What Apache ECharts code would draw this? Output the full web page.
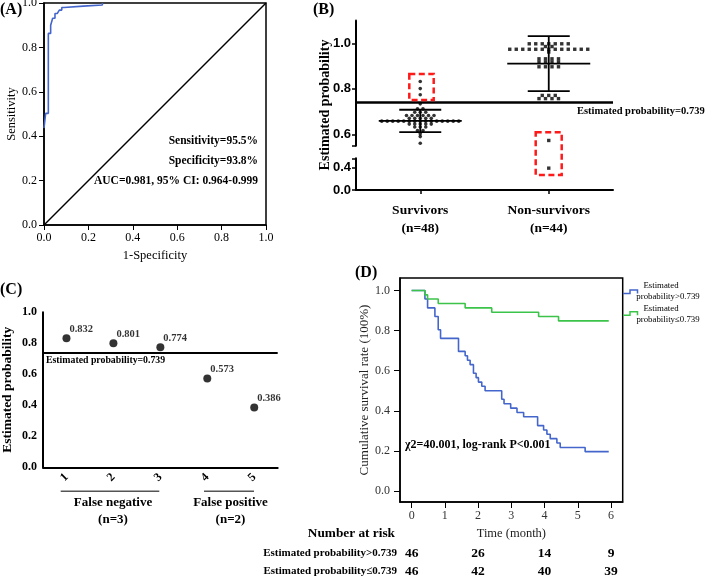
<!DOCTYPE html>
<html><head><meta charset="utf-8">
<script src="https://cdn.jsdelivr.net/npm/echarts@6/dist/echarts.min.js"></script>
<style>html,body{margin:0;padding:0;background:#fff}#c{width:709px;height:578px}</style>
</head><body><div id="c"></div>
<script>
// ---------- Panel A: ROC ----------
const rocFpr = [0, 0.0075, 0.0195, 0.030, 0.039, 0.0495, 0.060, 0.069, 0.080, 0.090, 0.177, 0.263];
const rocTpr = [0.436, 0.503, 0.863, 0.900, 0.931, 0.953, 0.961, 0.968, 0.980, 0.986, 0.991, 1.000];
const rocStats = ['Sensitivity=95.5%', 'Specificity=93.8%', 'AUC=0.981, 95% CI: 0.964-0.999'];
const axisTicks01 = [0, 0.2, 0.4, 0.6, 0.8, 1.0];

// ---------- Panel B: dot plot ----------
const groupLabels = ['Survivors\n(n=48)', 'Non-survivors\n(n=44)'];
const survivors = [0.832, 0.801, 0.774, 0.734, 0.712, 0.712, 0.697, 0.697, 0.697,
  0.683, 0.683, 0.683, 0.683, 0.683, 0.683, 0.671, 0.671, 0.671, 0.671, 0.671,
  0.658, 0.658, 0.658, 0.658, 0.658, 0.658, 0.658, 0.658, 0.658, 0.658, 0.658, 0.658, 0.658, 0.658, 0.658,
  0.645, 0.645, 0.645, 0.645, 0.645, 0.632, 0.632, 0.632, 0.617, 0.617, 0.602, 0.590, 0.561];
const nonSurvivors = [0.998, 0.998, 0.998, 0.998, 0.998, 0.998, 0.998, 0.986, 0.986,
  0.974, 0.974, 0.974, 0.974, 0.974, 0.974, 0.974, 0.974, 0.974, 0.974, 0.974, 0.974, 0.974,
  0.962, 0.932, 0.932, 0.932, 0.932, 0.918, 0.918, 0.918, 0.918, 0.897, 0.897, 0.897, 0.897,
  0.771, 0.771, 0.771, 0.757, 0.757, 0.757, 0.757, 0.573, 0.386];
const groupMean = [0.659, 0.911];
const groupSD = [0.049, 0.121];
const threshold = 0.739;
const upperTicks = [0.6, 0.8, 1.0];
const lowerTicks = [0, 0.4];

// ---------- Panel C ----------
const caseIds = ['1', '2', '3', '4', '5'];
const caseProb = [0.832, 0.801, 0.774, 0.573, 0.386];

// ---------- Panel D: Kaplan-Meier ----------
const kmHighTime = [0, 0.40, 0.48, 0.70, 0.80, 0.87, 1.41, 1.61, 1.68, 1.76, 1.86, 1.94, 2.01, 2.11, 2.21, 2.71, 2.78, 2.98, 3.17, 3.37, 3.79, 3.97, 4.07, 4.17, 4.37, 4.47, 5.22, 5.93];
const kmHighSurv = [1.000, 0.957, 0.913, 0.870, 0.804, 0.761, 0.696, 0.674, 0.652, 0.630, 0.587, 0.565, 0.543, 0.522, 0.500, 0.457, 0.435, 0.413, 0.391, 0.370, 0.326, 0.304, 0.283, 0.261, 0.239, 0.217, 0.196, 0.196];
const kmLowTime = [0, 0.40, 0.48, 0.80, 1.61, 2.41, 3.82, 4.42, 5.93];
const kmLowSurv = [1.000, 0.978, 0.957, 0.935, 0.913, 0.891, 0.870, 0.848, 0.848];
const kmTicksX = [0, 1, 2, 3, 4, 5, 6];
const kmTicksY = [0, 0.2, 0.4, 0.6, 0.8, 1.0];
const riskTimes = [0, 2, 4, 6];
const riskHigh = [46, 26, 14, 9];
const riskLow = [46, 42, 40, 39];
const seriesNames = ['Estimated probability>0.739', 'Estimated probability\u22640.739'];

// ---------- drawing ----------
const SERIF = '"Liberation Serif", "Times New Roman", serif';
const SANS = '"Liberation Sans", Arial, sans-serif';
const BLUE = '#4466cc', GREEN = '#3cc34a';

const gB = {left: 356, width: 257, xmin: 0.5, xmax: 2.5};
const pxPerUnitB = gB.width / (gB.xmax - gB.xmin);

function swarm(vals, center, spacingPx) {
  const counts = {}, seen = {};
  vals.forEach(v => counts[v] = (counts[v] || 0) + 1);
  return vals.map(v => {
    const n = counts[v]; const i = seen[v] || 0; seen[v] = i + 1;
    return [center + (i - (n - 1) / 2) * spacingPx / pxPerUnitB, v];
  });
}
const survPts = swarm(survivors, 1, 5.5);
const nonPts = swarm(nonSurvivors, 2, 6.5);
const splitAt = 0.55;

const fmt1 = v => (+v).toFixed(1);
const chart = echarts.init(document.getElementById('c'), null, {renderer: 'canvas'});

const blackLine = w => ({show: true, onZero: false, lineStyle: {color: '#000', width: w}});

const option = {
  animation: false,
  backgroundColor: '#fff',
  grid: [
    {left: 44, top: 3, width: 222, height: 222, show: true, borderColor: '#000', borderWidth: 1.5, outerBoundsMode: 'none'},
    {left: gB.left, top: 20.6, width: gB.width, height: 125.1, outerBoundsMode: 'none'},
    {left: gB.left, top: 158.3, width: gB.width, height: 31.7, outerBoundsMode: 'none'},
    {left: 43, top: 312.3, width: 234.7, height: 155, outerBoundsMode: 'none'},
    {left: 400, top: 278, width: 222.7, height: 224, show: true, borderColor: '#000', borderWidth: 1.5, outerBoundsMode: 'none'}
  ],
  xAxis: [
    {gridIndex: 0, type: 'value', min: 0, max: 1, interval: 0.2, axisLine: blackLine(1.5),
      axisTick: {length: 5, lineStyle: {color: '#000'}}, splitLine: {show: false},
      axisLabel: {formatter: fmt1, color: '#000', fontFamily: SERIF, fontSize: 12, margin: 7},
      name: '1-Specificity', nameLocation: 'middle', nameGap: 24,
      nameTextStyle: {color: '#000', fontFamily: SERIF, fontSize: 12.5}},
    {gridIndex: 1, type: 'value', min: gB.xmin, max: gB.xmax, show: false},
    {gridIndex: 2, type: 'value', min: gB.xmin, max: gB.xmax, axisLine: blackLine(2),
      axisTick: {customValues: [1, 2], length: 4, lineStyle: {color: '#000', width: 1.5}},
      splitLine: {show: false},
      axisLabel: {customValues: [1, 2], formatter: v => groupLabels[Math.round(v) - 1] || '', color: '#000',
        fontFamily: SERIF, fontWeight: 'bold', fontSize: 13.5, lineHeight: 18, margin: 12}},
    {gridIndex: 3, type: 'category', data: caseIds, boundaryGap: true, axisLine: blackLine(2),
      axisTick: {alignWithLabel: true, length: 5, lineStyle: {color: '#000', width: 1.5}},
      axisLabel: {rotate: 45, color: '#000', fontFamily: SERIF, fontWeight: 'bold', fontSize: 12, margin: 8}},
    {gridIndex: 4, type: 'value', min: -0.35, max: 6.35, axisLine: blackLine(1.5),
      axisTick: {customValues: kmTicksX, length: 6, lineStyle: {color: '#000'}}, splitLine: {show: false},
      axisLabel: {customValues: kmTicksX, color: '#333', fontFamily: SERIF, fontSize: 12, margin: 8},
      name: 'Time (month)', nameLocation: 'middle', nameGap: 25,
      nameTextStyle: {color: '#222', fontFamily: SERIF, fontSize: 12.5}}
  ],
  yAxis: [
    {gridIndex: 0, type: 'value', min: 0, max: 1, interval: 0.2, axisLine: blackLine(1.5),
      axisTick: {length: 5, lineStyle: {color: '#000'}}, splitLine: {show: false},
      axisLabel: {formatter: fmt1, color: '#000', fontFamily: SERIF, fontSize: 12, margin: 7},
      name: 'Sensitivity', nameLocation: 'middle', nameGap: 26,
      nameTextStyle: {color: '#000', fontFamily: SERIF, fontSize: 12.5}},
    {gridIndex: 1, type: 'value', min: 0.55, max: 1.1, axisLine: blackLine(2),
      axisTick: {customValues: [0.55].concat(upperTicks), length: 4, lineStyle: {color: '#000', width: 1.5}},
      splitLine: {show: false},
      axisLabel: {customValues: upperTicks, formatter: fmt1, color: '#000', fontFamily: SANS, fontWeight: 'bold', fontSize: 13, margin: 5}},
    {gridIndex: 2, type: 'value', min: 0, max: 0.56, axisLine: blackLine(2),
      axisTick: {customValues: lowerTicks.concat([0.56]), length: 4, lineStyle: {color: '#000', width: 1.5}},
      splitLine: {show: false},
      axisLabel: {customValues: lowerTicks, formatter: fmt1, color: '#000', fontFamily: SANS, fontWeight: 'bold', fontSize: 13, margin: 5}},
    {gridIndex: 3, type: 'value', min: 0, max: 1, interval: 0.2, axisLine: blackLine(2),
      axisTick: {length: 5, lineStyle: {color: '#000', width: 1.5}}, splitLine: {show: false},
      axisLabel: {formatter: fmt1, color: '#000', fontFamily: SERIF, fontWeight: 'bold', fontSize: 12, margin: 6},
      name: 'Estimated probability', nameLocation: 'middle', nameGap: 28,
      nameTextStyle: {color: '#000', fontFamily: SERIF, fontWeight: 'bold', fontSize: 13.5}},
    {gridIndex: 4, type: 'value', min: -0.055, max: 1.062, axisLine: blackLine(1.5),
      axisTick: {customValues: kmTicksY, length: 6, lineStyle: {color: '#000'}}, splitLine: {show: false},
      axisLabel: {customValues: kmTicksY, formatter: fmt1, color: '#333', fontFamily: SERIF, fontSize: 12, margin: 10},
      name: 'Cumulative survival rate (100%)', nameLocation: 'middle', nameGap: 26,
      nameTextStyle: {color: '#222', fontFamily: SERIF, fontSize: 13}}
  ],
  series: [
    // A
    {type: 'line', xAxisIndex: 0, yAxisIndex: 0, data: [[0, 0], [1, 1]], showSymbol: false,
      lineStyle: {color: '#000', width: 1.5}, z: 2},
    {type: 'line', xAxisIndex: 0, yAxisIndex: 0, step: 'end', data: rocFpr.map((x, i) => [x, rocTpr[i]]),
      showSymbol: false, lineStyle: {color: BLUE, width: 1.6}, z: 3},
    // B upper
    {type: 'scatter', xAxisIndex: 1, yAxisIndex: 1, data: survPts.filter(p => p[1] >= splitAt),
      symbol: 'circle', symbolSize: 3.6, itemStyle: {color: '#000'},
      markLine: {silent: true, symbol: 'none', label: {show: false},
        lineStyle: {color: '#000', width: 2.5, type: 'solid'}, data: [{yAxis: threshold}]}},
    {type: 'scatter', xAxisIndex: 1, yAxisIndex: 1, data: nonPts.filter(p => p[1] >= splitAt),
      symbol: 'rect', symbolSize: 3.4, itemStyle: {color: '#000'}},
    {type: 'scatter', xAxisIndex: 2, yAxisIndex: 2, data: nonPts.filter(p => p[1] < splitAt),
      symbol: 'rect', symbolSize: 3.4, itemStyle: {color: '#000'}},
    {type: 'scatter', xAxisIndex: 2, yAxisIndex: 2, data: survPts.filter(p => p[1] < splitAt),
      symbol: 'circle', symbolSize: 3.6, itemStyle: {color: '#000'}},
    {type: 'custom', xAxisIndex: 1, yAxisIndex: 1, z: 4,
      data: groupMean.map((m, i) => [i + 1, m, groupSD[i]]),
      renderItem: function (params, api) {
        const x = api.value(0), m = api.value(1), s = api.value(2);
        const c = api.coord([x, m]), hi = api.coord([x, m + s]), lo = api.coord([x, m - s]);
        const capW = 21, meanW = 41.5;
        const st = {stroke: '#000', lineWidth: 1.8};
        return {type: 'group', children: [
          {type: 'line', shape: {x1: c[0], y1: hi[1], x2: c[0], y2: lo[1]}, style: st},
          {type: 'line', shape: {x1: c[0] - capW, y1: hi[1], x2: c[0] + capW, y2: hi[1]}, style: st},
          {type: 'line', shape: {x1: c[0] - capW, y1: lo[1], x2: c[0] + capW, y2: lo[1]}, style: st},
          {type: 'line', shape: {x1: c[0] - meanW, y1: c[1], x2: c[0] + meanW, y2: c[1]}, style: st}
        ]};
      }},
    // C
    {type: 'scatter', xAxisIndex: 3, yAxisIndex: 3, data: caseProb, symbol: 'circle', symbolSize: 8,
      itemStyle: {color: '#000'},
      label: {show: true, position: [7, -5], align: 'left', verticalAlign: 'middle',
        formatter: p => p.value.toFixed(3), color: '#000', fontFamily: SERIF, fontWeight: 'bold', fontSize: 10.5},
      markLine: {silent: true, symbol: 'none', label: {show: false},
        lineStyle: {color: '#000', width: 2, type: 'solid'}, data: [{yAxis: threshold}]}},
    // D
    {name: seriesNames[0], type: 'line', xAxisIndex: 4, yAxisIndex: 4, step: 'end',
      data: kmHighTime.map((t, i) => [t, kmHighSurv[i]]), showSymbol: false,
      lineStyle: {color: BLUE, width: 1.6}},
    {name: seriesNames[1], type: 'line', xAxisIndex: 4, yAxisIndex: 4, step: 'end',
      data: kmLowTime.map((t, i) => [t, kmLowSurv[i]]), showSymbol: false,
      lineStyle: {color: GREEN, width: 1.6}}
  ]
};
chart.setOption(option);

function txt(text, x, y, size, opts) {
  opts = opts || {};
  return {type: 'text', x: x, y: y, rotation: opts.rot || 0, z: 10,
    style: {text: text, fill: opts.fill || '#000', align: opts.align || 'left', verticalAlign: 'middle',
      font: (opts.bold ? 'bold ' : '') + size + 'px ' + (opts.family || SERIF)}};
}
const g = [];
g.push(txt('(A)', 0, 10, 16, {bold: true}));
g.push(txt('(B)', 313, 10, 16, {bold: true}));
g.push(txt('(C)', 0, 290, 16, {bold: true}));
g.push(txt('(D)', 355, 273, 16, {bold: true}));
rocStats.forEach((s, i) => g.push(txt(s, 258, 141 + i * 20, 11.5, {bold: true, align: 'right'})));
// B
g.push(txt('Estimated probability', 325, 105, 14, {bold: true, align: 'center', rot: Math.PI / 2}));
g.push(txt('Estimated probability=' + threshold, 577, 111, 10.5, {bold: true}));
g.push({type: 'rect', z: 9, shape: {x: 409.3, y: 74, width: 24.4, height: 26},
  style: {fill: 'none', stroke: '#ff1a1a', lineWidth: 2.5, lineDash: [6, 3.5]}});
g.push({type: 'rect', z: 9, shape: {x: 535.7, y: 132.3, width: 26, height: 42.7},
  style: {fill: 'none', stroke: '#ff1a1a', lineWidth: 2.5, lineDash: [6, 3.5]}});
// C
g.push(txt('Estimated probability=' + threshold, 46, 360.3, 9.8, {bold: true}));
g.push({type: 'line', z: 9, shape: {x1: 60.7, y1: 491.3, x2: 159.3, y2: 491.3}, style: {stroke: '#555', lineWidth: 1.5}});
g.push({type: 'line', z: 9, shape: {x1: 204, y1: 491.3, x2: 254, y2: 491.3}, style: {stroke: '#555', lineWidth: 1.5}});
g.push(txt('False negative', 113, 502.3, 13, {bold: true, align: 'center'}));
g.push(txt('(n=3)', 113, 519.5, 13, {bold: true, align: 'center'}));
g.push(txt('False positive', 230.5, 502.3, 13, {bold: true, align: 'center'}));
g.push(txt('(n=2)', 230.5, 519.5, 13, {bold: true, align: 'center'}));
// D
g.push(txt('\u03c72=40.001, log-rank P<0.001', 405, 445.3, 12, {bold: true}));
g.push({type: 'polyline', z: 9, shape: {points: [[623, 293.5], [630, 293.5], [630, 290], [637.5, 290], [637.5, 293.5]]},
  style: {fill: 'none', stroke: BLUE, lineWidth: 1.5}});
g.push({type: 'polyline', z: 9, shape: {points: [[623, 315.3], [630, 315.3], [630, 311.7], [637.5, 311.7], [637.5, 315.3]]},
  style: {fill: 'none', stroke: GREEN, lineWidth: 1.5}});
g.push(txt('Estimated', 661, 286, 8.8, {align: 'center'}));
g.push(txt('probability>0.739', 668, 297, 8.8, {align: 'center'}));
g.push(txt('Estimated', 661, 308.5, 8.8, {align: 'center'}));
g.push(txt('probability\u22640.739', 668, 319.5, 8.8, {align: 'center'}));
g.push(txt('Number at risk', 395, 533.3, 13.3, {bold: true, align: 'right'}));
g.push(txt(seriesNames[0], 397, 553.3, 11, {bold: true, align: 'right'}));
g.push(txt(seriesNames[1], 397, 571.5, 11, {bold: true, align: 'right'}));
riskTimes.forEach((t, i) => {
  const x = chart.convertToPixel({xAxisIndex: 4}, t);
  g.push(txt(String(riskHigh[i]), x, 553.3, 13.5, {bold: true, align: 'center'}));
  g.push(txt(String(riskLow[i]), x, 571.5, 13.5, {bold: true, align: 'center'}));
});
chart.setOption({graphic: g});
</script></body></html>
